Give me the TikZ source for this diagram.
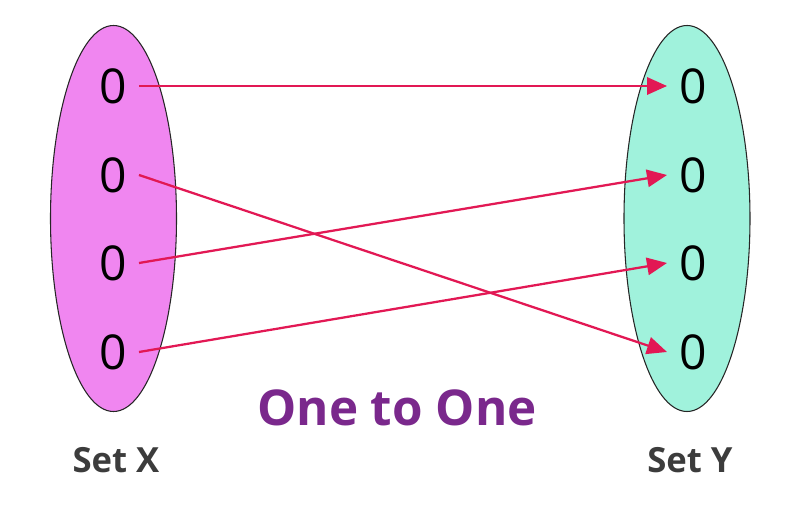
\documentclass[tikz,border=0pt]{standalone}
\usepackage{fontspec}
\setmainfont{Open Sans}
\usetikzlibrary{arrows.meta}
\definecolor{setXfill}{RGB}{240,134,240}
\definecolor{setYfill}{RGB}{160,242,220}
\definecolor{mapred}{RGB}{226,24,84}
\definecolor{titlepurple}{RGB}{122,40,140}
\definecolor{labelgray}{RGB}{60,60,60}
\tikzset{
  elem/.style={inner sep=9pt, font=\fontsize{36pt}{36pt}\selectfont},
  mapto/.style={draw=mapred, line width=1.7pt, -{Triangle[length=15pt,width=13pt]}},
  setname/.style={text=labelgray, font=\fontsize{26pt}{26pt}\selectfont\bfseries}
}
\begin{document}
\begin{tikzpicture}[x=0.75pt,y=0.75pt,yscale=-1,xscale=1]
    \useasboundingbox (0,0) rectangle (800,520);

    % sets
    \draw [fill=setXfill, draw=black!85, line width=0.8pt] (113.5,218.5) ellipse [x radius=63, y radius=193];
    \draw [fill=setYfill, draw=black!85, line width=0.8pt] (687,218.5) ellipse [x radius=63, y radius=193];

    % elements of X
    \node [elem] (x1) at (113,86) {0};
    \node [elem] (x2) at (113,175) {0};
    \node [elem] (x3) at (113,263) {0};
    \node [elem] (x4) at (113,352) {0};
    % elements of Y
    \node [elem] (y1) at (693,86) {0};
    \node [elem] (y2) at (693,175) {0};
    \node [elem] (y3) at (693,263) {0};
    \node [elem] (y4) at (693,352) {0};

    % mapping
    \draw [mapto] (x1.east) -- (y1.west);
    \draw [mapto] (x2.east) -- (y4.west);
    \draw [mapto] (x3.east) -- (y2.west);
    \draw [mapto] (x4.east) -- (y3.west);

    % Text Node
    \node [text=titlepurple, font=\fontsize{37pt}{37pt}\selectfont\bfseries] (title) at (397,408) {One to One};
    % Text Node
    \node [setname] (setX) at (116,460) {Set X};
    % Text Node
    \node [setname] (setY) at (690,460) {Set Y};

\end{tikzpicture}
\end{document}
